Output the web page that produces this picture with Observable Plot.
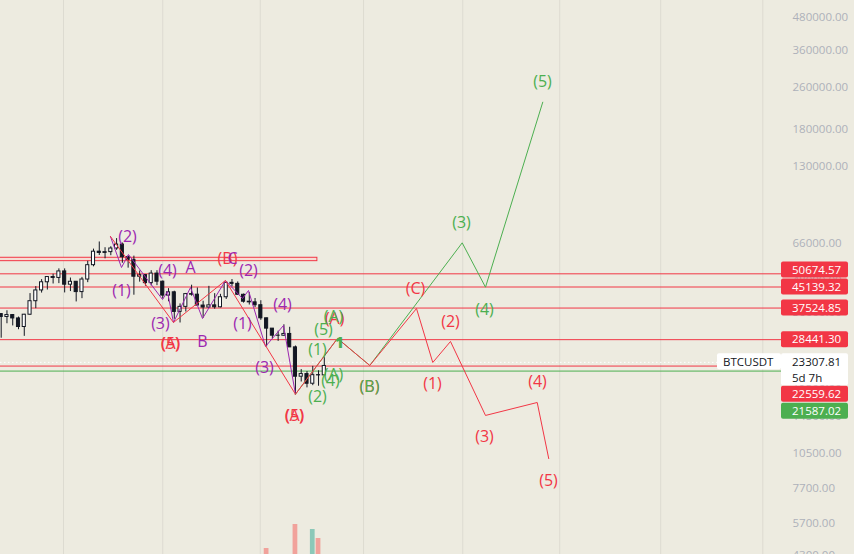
<!DOCTYPE html>
<html><head><meta charset="utf-8">
<script src="https://cdn.jsdelivr.net/npm/d3@7"></script>
<script src="https://cdn.jsdelivr.net/npm/@observablehq/plot@0.6"></script>
<style>
html,body{margin:0;padding:0;background:#EDEBE0;}
#wrap{position:relative;width:854px;height:554px;overflow:hidden;background:#EDEBE0;}
#wrap svg{position:absolute;left:0;top:0;}
</style></head><body><div id="wrap"></div>
<script>
// Weekly BTCUSDT candles, index 0 = week of 2021-06-21
const open  = [35600,34700,35290,34260,31780,35400,39850,43800,47050,49260,48880,51750,46060,47260,43170,48200,54660,61530,60860,61300,63270,65520,58620,57270,49400,50100,46700,50780,47290,41860,43080,36280,37920,42410,42200,38360,37700,38420,37780,41260,46820,46400,42160,39680,39450,38470,34300,31330,29450,29440,29900,26580,20550,21030,19320,20830,20790];
const close = [34700,35290,34260,31780,35400,39850,43800,47050,49260,48880,51750,46060,47260,43170,48200,54660,61530,60860,61300,63270,65520,58620,57270,49400,50100,46700,50780,47290,41860,43080,36280,37920,42410,42200,38360,37700,38420,37780,41260,46820,46400,42160,39680,39450,38470,34300,31330,29450,29440,29900,26580,20550,21030,19320,20830,20790,22580];
const high  = [35750,36650,35400,34680,35500,42600,45300,48150,49380,50500,52920,52920,48840,47360,49110,56560,62930,67000,63710,64270,69000,66400,59270,59180,51940,50200,52090,52090,47570,44500,43500,38920,42660,45860,44750,39840,45400,42590,42330,47000,48190,47200,42420,42980,40800,40020,34330,31350,30650,32400,31700,26900,21870,21500,22500,21650,24280];
const low   = [28800,32700,32080,31030,29280,35200,37330,42800,43960,46350,46500,42850,43370,39600,40750,46890,53880,59510,57800,59400,62270,55600,53260,42000,47100,45450,45560,45680,40610,39650,34010,32920,36250,41650,38000,34320,37450,37150,37580,40470,45200,42110,39200,38540,37700,33710,26700,28630,28020,29300,26560,17620,19620,18630,19000,18900,20760];

// visible volume bars (thousand BTC) at week index
const volIdx = [46, 51, 54, 55];
const volK   = [670, 1150, 1050, 870];
const volUp  = [false, false, true, false];

// horizontal levels
const redLevels = [50674.57, 45139.32, 37524.85, 28441.30, 22559.62];
const greenLevel = 21587.02;
const lastPrice = 23307.81;
const box = {i1: -2, i2: 54.8, p1: 56620, p2: 58330};

// right price-axis ticks
const yTicks = [480000,360000,260000,180000,130000,90000,66000,48000,36000,28000,19500,14500,10500,7700,5700,4300];
// vertical grid positions (week index)
const gridIdx = [10.8, 28, 44.9, 62.8, 80, 96.8, 114.3, 132];

// wave paths [week index, price]
const purplePath = [[18.94,70300],[20.85,53560],[22.06,60030],[27.96,40450],[28.82,43390],[29.86,33060],[32.81,44940],[34.89,34240],[38.87,47790],[41.82,40810],[42.86,43770],[45.81,26790],[48.93,32210],[51,17620]];
const redPath1   = [[18.94,70300],[29.86,33060],[38.87,47790],[51,17620]];
const greenPath  = [[51,17620],[58.29,28740],[63.88,22680],[79.9,66500],[83.94,45060],[93.86,228300]];
const redPath2   = [[51,17620],[58.29,28740],[63.88,22680],[71.98,37380],[74.8,23280],[77.87,27990],[83.94,14630],[92.9,16390],[94.9,10020]];

// wave labels [text, week index, price]
const purpleLabels = [["(1)",20.85,43770],["(2)",21.89,70300],["(3)",27.6,32780],["(4)",28.82,52170],["A",32.81,53560],["B",34.89,27990],["(1)",41.82,32780],["(2)",42.86,52170],["(3)",45.63,22280],["(4)",48.75,38710]];
const redLabels = [["(5)",29.34,27500],["(A)",29.34,27500],["(B)",39.22,57970],["(5)",50.83,14630],["(A)",50.83,14630],["(A)",57.8,34240],["(B)",63.83,18860],["(C)",71.8,44550],["(1)",74.75,19360],["(2)",77.87,33350],["(3)",83.76,12160],["(4)",92.95,19710],["(5)",94.85,8270]];
const purpleLate = [["C",40.09,57970]];
const greenLabels = [["(A)",57.6,34850],["(5)",55.86,31090],["(1)",54.82,26090],["(4)",57.07,19880],["(A)",57.6,20950],["(2)",54.82,17270],["(B)",63.83,18860],["(3)",79.78,79480],["(4)",83.76,37060],["(5)",93.81,273800]];
const greenMark = [["1",58.6,27500]];

const RED="#F23645", GREEN="#4CAF50", PURPLE="#9C27B0", INK="#131722", BG="#EDEBE0";
const candles = open.map((o,i)=>({i,o,h:high[i],l:low[i],c:close[i]}));
const upC = candles.filter(d=>d.c>=d.o), dnC = candles.filter(d=>d.c<d.o);
const pts = a => a.map(([i,p])=>({i,p}));
const lab = a => a.map(([t,i,p])=>({t,i,p}));
const X = {domain:[-0.12,135.24], axis:null};
const FONT = "Open Sans, Noto Sans, sans-serif";

// volume overlay (own scale)
const vol = Plot.plot({
  width:854, height:554, marginLeft:0, marginRight:73, marginTop:0, marginBottom:0,
  style:{background:"transparent"},
  x:X, y:{domain:[0,1200], range:[581.5,521.5], axis:null},
  marks:[
    Plot.rect(volIdx.map((i,k)=>({i,v:volK[k],up:volUp[k]})), {x1:d=>d.i-0.41, x2:d=>d.i+0.41, y1:0, y2:"v", fill:d=>d.up?"#8CC8B8":"#F1A29B"})
  ]
});

const labelText = (data, color, extra={}) => Plot.text(lab(data), {x:"i", y:"p", text:"t", fill:color, fontSize:16, fontFamily:FONT, ...extra});

const chart = Plot.plot({
  width:854, height:554, marginLeft:0, marginRight:73, marginTop:0, marginBottom:0,
  style:{background:"transparent", fontFamily:FONT, fontSize:"11.5px"},
  x:X,
  y:{type:"log", domain:[4320,557200], axis:null},
  marks:[
    Plot.ruleX(gridIdx, {stroke:"#DDDBD1", strokeWidth:1}),
    Plot.rect([box], {x1:"i1", x2:"i2", y1:"p1", y2:"p2", fill:"#F6DCD4", stroke:RED, strokeWidth:1}),
    Plot.ruleY(redLevels, {stroke:RED, strokeWidth:1}),
    Plot.ruleY([greenLevel], {stroke:GREEN, strokeWidth:1}),
    Plot.ruleY([lastPrice], {stroke:"#ffffff", strokeWidth:1, strokeDasharray:"1.5,2.5"}),
    Plot.ruleX(candles, {x:"i", y1:"l", y2:"h", stroke:INK, strokeWidth:1}),
    Plot.rect(upC, {x1:d=>d.i-0.27, x2:d=>d.i+0.27, y1:"o", y2:"c", fill:"#ffffff", stroke:INK, strokeWidth:1}),
    Plot.rect(dnC, {x1:d=>d.i-0.27, x2:d=>d.i+0.27, y1:"o", y2:"c", fill:INK, stroke:INK, strokeWidth:1}),
    Plot.line(pts(purplePath), {x:"i", y:"p", stroke:PURPLE, strokeWidth:1}),
    Plot.line(pts(redPath1), {x:"i", y:"p", stroke:RED, strokeWidth:1}),
    Plot.line(pts(greenPath), {x:"i", y:"p", stroke:GREEN, strokeWidth:1}),
    Plot.line(pts(redPath2), {x:"i", y:"p", stroke:RED, strokeWidth:1}),
    labelText(purpleLabels, PURPLE),
    labelText(redLabels, RED),
    labelText(purpleLate, PURPLE),
    labelText(greenLabels, GREEN),
    labelText(greenMark, GREEN, {fontWeight:900, fontSize:15}),
    Plot.axisY(yTicks, {anchor:"right", tickSize:0, tickPadding:11, tickFormat:d=>d.toFixed(2), fill:"#AEB1BA", label:null, fontSize:11.5})
  ]
});

const wrap = document.getElementById("wrap");
wrap.appendChild(vol);
wrap.appendChild(chart);

// price tags on the axis, placed with the chart's own y scale
const ys = chart.scale("y");
const svg = d3.select(chart);
const XL = 781, TW = 67, TH = 16, SP = 17;
const yc = ys.apply(lastPrice);
const curTop = yc - 8.5, curBot = yc + 23.5;
const tags = redLevels.map(v=>({v,color:RED})).concat([{v:greenLevel,color:GREEN}]).map(t=>({...t, y:ys.apply(t.v)}));
const above = tags.filter(t=>t.v>lastPrice).sort((a,b)=>b.y-a.y);
let limit = curTop - SP/2;
above.forEach(t=>{ t.cy = Math.min(t.y, limit); limit = t.cy - SP; });
const below = tags.filter(t=>t.v<lastPrice).sort((a,b)=>a.y-b.y);
let lim2 = curBot + SP/2;
below.forEach(t=>{ t.cy = Math.max(t.y, lim2); lim2 = t.cy + SP; });
const g = svg.append("g").attr("font-family", FONT).attr("font-size", "11.5px").attr("text-anchor","start");
const txt = (x,y,fill,s) => g.append("text").attr("x",x).attr("y",y).attr("dy","0.35em").attr("text-anchor","start").attr("fill",fill).text(s);
tags.forEach(t=>{
  g.append("rect").attr("x",XL).attr("y",t.cy-TH/2).attr("width",TW).attr("height",TH).attr("rx",2).attr("fill",t.color);
  txt(XL+11, t.cy, "#fff", t.v.toFixed(2));
});
g.append("rect").attr("x",XL).attr("y",curTop).attr("width",TW).attr("height",curBot-curTop).attr("rx",2).attr("fill","#fff");
txt(XL+11, yc, INK, lastPrice.toFixed(2));
txt(XL+11, yc+16, INK, "5d 7h");
g.append("rect").attr("x",XL-64).attr("y",curTop).attr("width",64).attr("height",TH).attr("rx",2).attr("fill","#fff");
txt(XL-58, yc, INK, "BTCUSDT");
</script>
</body></html>
